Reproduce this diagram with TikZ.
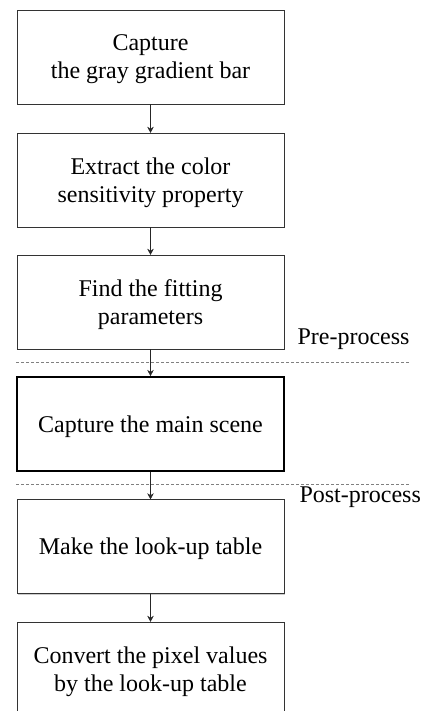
\documentclass[tikz,border=0pt]{standalone}
\usepackage{fontspec}
\setmainfont{Liberation Serif}
\usetikzlibrary{shadows, arrows.meta}
\begin{document}
\begin{tikzpicture}[x=1pt, y=-1pt,
    stepbox/.style={rectangle, draw=black!80, fill=white, minimum width=267pt, minimum height=94pt, text depth=0pt, align=center, font=\fontsize{24}{28}\selectfont, drop shadow={shadow xshift=1.2pt, shadow yshift=-1.2pt, opacity=0.4}},
    arrow/.style={-{Stealth[length=6pt,width=6.5pt]}, black!85},
    divider/.style={dashed, gray, dash pattern=on 3pt off 2pt},
    phase/.style={font=\fontsize{24}{28}\selectfont, anchor=west}
]
\useasboundingbox (0,0) rectangle (435,711);
\node[stepbox] (bar) at (150.5,57) {Capture\\the gray gradient bar};
\node[stepbox] (sens) at (150.5,180) {Extract the color\\sensitivity property};
\node[stepbox] (fit) at (150.5,302) {Find the fitting\\parameters};
\node[stepbox, draw=black, line width=2pt] (scene) at (150.5,424) {Capture the main scene};
\node[stepbox] (lut) at (150.5,546.5) {Make the look-up table};
\node[stepbox] (conv) at (150.5,669) {Convert the pixel values\\by the look-up table};

\draw[divider] (16,362) coordinate (pre-l) -- (410,362) coordinate (pre-r);
\draw[divider] (16,484) coordinate (post-l) -- (410,484) coordinate (post-r);
\node[phase] (pre) at (294,339) {Pre-process};
\node[phase] (post) at (296,497) {Post-process};

\draw[arrow] (bar) -- (sens);
\draw[arrow] (sens) -- (fit);
\draw[arrow] (fit) -- (scene);
\draw[arrow] (scene) -- (lut);
\draw[arrow] (lut) -- (conv);
\end{tikzpicture}
\end{document}
